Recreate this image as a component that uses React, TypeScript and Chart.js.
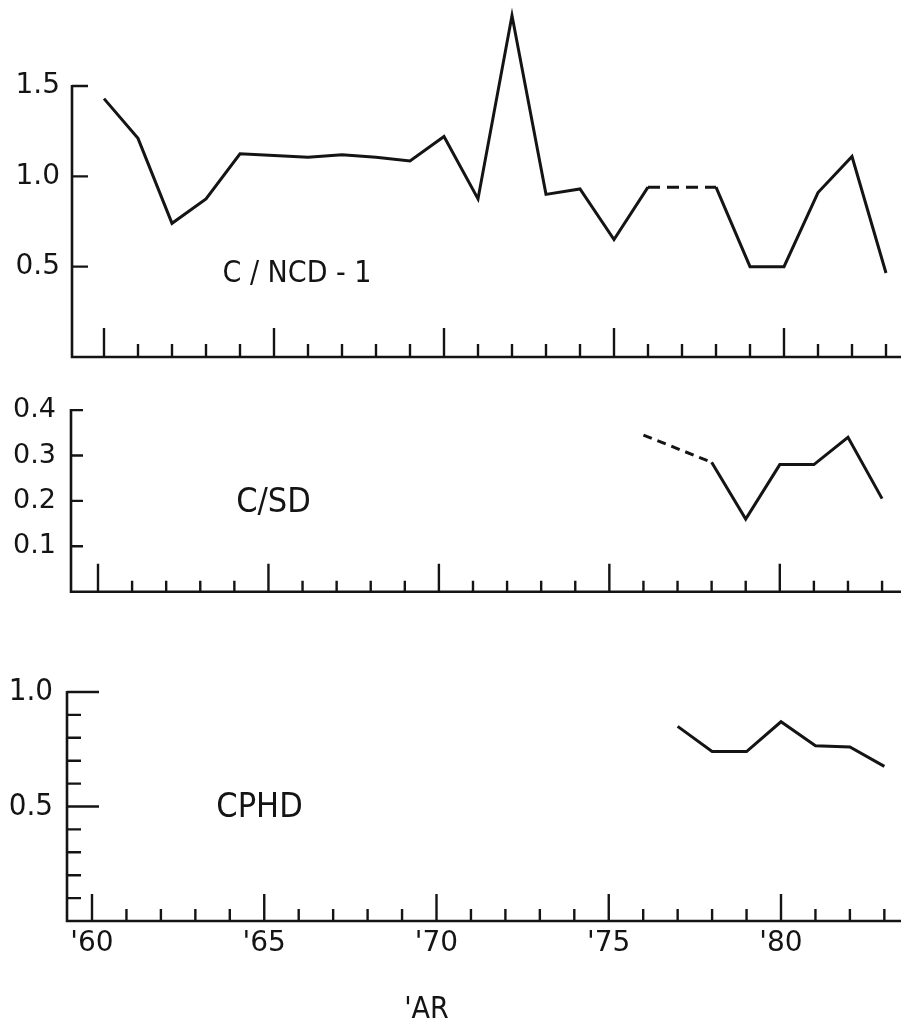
import React, { useEffect, useRef } from 'react';
import { Chart, registerables } from 'chart.js';

Chart.register(...registerables);

// ---------- data ----------
const years = [1960, 1961, 1962, 1963, 1964, 1965, 1966, 1967, 1968, 1969, 1970, 1971,
  1972, 1973, 1974, 1975, 1976, 1977, 1978, 1979, 1980, 1981, 1982, 1983];
const ncdValues: (number | null)[] = [1.43, 1.21, 0.74, 0.875, 1.125, 1.115, 1.105, 1.12, 1.105, 1.085, 1.22, 0.875,
  1.89, 0.9, 0.93, 0.65, 0.94, null, 0.94, 0.5, 0.5, 0.91, 1.11, 0.465];

const sdYears = [1976, 1977, 1978, 1979, 1980, 1981, 1982, 1983];
const sdValues: (number | null)[] = [0.345, null, 0.285, 0.16, 0.28, 0.28, 0.34, 0.205];

const cphdYears = [1977, 1978, 1979, 1980, 1981, 1982, 1983];
const cphdValues: (number | null)[] = [0.85, 0.74, 0.74, 0.87, 0.765, 0.76, 0.675];

const tickYears = years;
const majorYears = [1960, 1965, 1970, 1975, 1980];
const ncdTicks = [0.5, 1.0, 1.5];
const sdTicks = [0.1, 0.2, 0.3, 0.4];
const cphdTicks = [0.5, 1.0];
const cphdMinorTicks = [0.1, 0.2, 0.3, 0.4, 0.6, 0.7, 0.8, 0.9];
const panelLabels = ['C / NCD - 1', 'C/SD', 'CPHD'];
const xTitle = "'AR";

// ---------- helpers ----------
type Pt = { x: number; y: number | null };
function solidPoints(xs: number[], ys: (number | null)[]): Pt[] {
  return xs.map((x, i) => ({ x, y: ys[i] }));
}
function bridgePoints(xs: number[], ys: (number | null)[]): Pt[] {
  const out: Pt[] = [];
  let i = 0;
  while (i < ys.length) {
    if (ys[i] == null) {
      const a = i - 1;
      let b = i;
      while (b < ys.length && ys[b] == null) b++;
      if (a >= 0 && b < ys.length) {
        if (out.length) out.push({ x: xs[a], y: null });
        out.push({ x: xs[a], y: ys[a] }, { x: xs[b], y: ys[b] });
      }
      i = b;
    } else i++;
  }
  return out;
}

const INK = '#141414';
const W = 902;

interface Panel {
  top: number; height: number; zeroY: number; unitPx: number; axisX: number;
  x60: number; perYear: number; right: number;
  xs: number[]; ys: (number | null)[]; dash: number[];
  yTicks: number[]; yMinor: number[]; yMajorLen: number; yMinorLen: number;
  xMajorLen: number; xMinorLen: number;
  yFont: { family: string; size: number }; yPad: number;
  showX: boolean;
  label: string; labelFont: string; labelX: number; labelBase: number;
}

const PANELS: Panel[] = [
  {
    top: 0, height: 372, zeroY: 357, unitPx: 180.67, axisX: 72, x60: 104, perYear: 34.0, right: 901,
    xs: years, ys: ncdValues, dash: [12, 7],
    yTicks: ncdTicks, yMinor: [], yMajorLen: 16, yMinorLen: 0, xMajorLen: 29, xMinorLen: 13,
    yFont: { family: 'DejaVu Sans', size: 28 }, yPad: 12, showX: false,
    label: panelLabels[0], labelFont: '30px "DejaVu Sans Condensed"', labelX: 297, labelBase: 281.5,
  },
  {
    top: 385, height: 220, zeroY: 591.7, unitPx: 454, axisX: 71, x60: 98, perYear: 34.09, right: 901,
    xs: sdYears, ys: sdValues, dash: [9, 6],
    yTicks: sdTicks, yMinor: [], yMajorLen: 12, yMinorLen: 0, xMajorLen: 28, xMinorLen: 11,
    yFont: { family: 'DejaVu Sans', size: 27 }, yPad: 15, showX: false,
    label: panelLabels[1], labelFont: '34px "DejaVu Sans Condensed"', labelX: 273.5, labelBase: 512,
  },
  {
    top: 640, height: 380, zeroY: 921, unitPx: 229, axisX: 67, x60: 92, perYear: 34.45, right: 901,
    xs: cphdYears, ys: cphdValues, dash: [12, 7],
    yTicks: cphdTicks, yMinor: cphdMinorTicks, yMajorLen: 32, yMinorLen: 14, xMajorLen: 27, xMinorLen: 12,
    yFont: { family: 'DejaVu Sans Condensed', size: 31 }, yPad: 14, showX: true,
    label: panelLabels[2], labelFont: '34px "DejaVu Sans Condensed"', labelX: 259.5, labelBase: 816.7,
  },
];

function framePlugin(p: Panel, isLast: boolean) {
  return {
    id: 'frame',
    afterDatasetsDraw(chart: any) {
      const ctx: CanvasRenderingContext2D = chart.ctx;
      const xs = chart.scales.x;
      const ys = chart.scales.y;
      const left = chart.chartArea.left;
      const right = chart.chartArea.right;
      const y0 = ys.getPixelForValue(0);
      const yTop = ys.getPixelForValue(p.yTicks[p.yTicks.length - 1]);
      ctx.save();
      ctx.strokeStyle = INK;
      ctx.lineCap = 'butt';
      // axes
      ctx.lineWidth = 2.6;
      ctx.beginPath();
      ctx.moveTo(left, yTop - 1);
      ctx.lineTo(left, y0 + 1.3);
      ctx.moveTo(left - 1.3, y0);
      ctx.lineTo(right, y0);
      ctx.stroke();
      // year ticks (pointing up)
      ctx.lineWidth = 2.4;
      ctx.beginPath();
      tickYears.forEach((yr) => {
        const x = xs.getPixelForValue(yr);
        const len = majorYears.includes(yr) ? p.xMajorLen : p.xMinorLen;
        ctx.moveTo(x, y0);
        ctx.lineTo(x, y0 - len);
      });
      ctx.stroke();
      // value ticks (pointing right)
      ctx.beginPath();
      p.yTicks.forEach((v) => {
        const y = ys.getPixelForValue(v);
        ctx.moveTo(left, y);
        ctx.lineTo(left + p.yMajorLen, y);
      });
      p.yMinor.forEach((v) => {
        const y = ys.getPixelForValue(v);
        ctx.moveTo(left, y);
        ctx.lineTo(left + p.yMinorLen, y);
      });
      ctx.stroke();
      // panel label
      ctx.fillStyle = INK;
      ctx.font = p.labelFont;
      ctx.textAlign = 'center';
      ctx.textBaseline = 'alphabetic';
      ctx.fillText(p.label, p.labelX, p.labelBase - p.top);
      if (isLast) {
        ctx.font = '30px "DejaVu Sans Condensed"';
        ctx.fillText(xTitle, 426.5, 1018 - p.top);
      }
      ctx.restore();
    },
  };
}

function zeroPad(s: any) {
  s.paddingTop = 0;
  s.paddingBottom = 0;
  s.paddingLeft = 0;
  s.paddingRight = 0;
}

function buildConfig(p: Panel, isLast: boolean): any {
  const areaBottom = p.zeroY - p.top;
  const yMax = areaBottom / p.unitPx;
  const xMin = 1960 + (p.axisX - p.x60) / p.perYear;
  const xMax = 1960 + (p.right - p.x60) / p.perYear;
  const below = p.height - areaBottom;
  return {
    type: 'line',
    data: {
      datasets: [
        {
          data: solidPoints(p.xs, p.ys),
          borderColor: INK, borderWidth: 3, pointRadius: 0, tension: 0,
          spanGaps: false, fill: false, clip: false, borderJoinStyle: 'miter',
        },
        {
          data: bridgePoints(p.xs, p.ys),
          borderColor: INK, borderWidth: 3, pointRadius: 0, tension: 0,
          spanGaps: false, fill: false, clip: false, borderDash: p.dash,
        },
      ],
    },
    options: {
      responsive: false,
      animation: false,
      events: [],
      layout: { autoPadding: false, padding: { top: 0, left: 0, right: W - p.right, bottom: 0 } },
      plugins: { legend: { display: false }, tooltip: { enabled: false }, title: { display: false } },
      scales: {
        x: {
          type: 'linear', min: xMin, max: xMax, display: p.showX,
          grid: { display: false, drawTicks: false }, border: { display: false },
          afterBuildTicks: (s: any) => { s.ticks = majorYears.map((v) => ({ value: v })); },
          afterFit: (s: any) => { s.height = below; zeroPad(s); },
          ticks: {
            callback: (v: any) => "'" + String(v).slice(2),
            font: { family: 'DejaVu Sans', size: 28 }, color: INK, padding: 6,
            maxRotation: 0, minRotation: 0, autoSkip: false,
          },
        },
        y: {
          type: 'linear', min: 0, max: yMax,
          grid: { display: false, drawTicks: false }, border: { display: false },
          afterBuildTicks: (s: any) => { s.ticks = p.yTicks.map((v) => ({ value: v })); },
          afterFit: (s: any) => { s.width = p.axisX; zeroPad(s); },
          ticks: {
            callback: (v: any) => Number(v).toFixed(1),
            font: p.yFont, color: INK, padding: p.yPad, autoSkip: false,
          },
        },
      },
    },
    plugins: [framePlugin(p, isLast)],
  };
}

export default function App() {
  const r0 = useRef<HTMLCanvasElement>(null);
  const r1 = useRef<HTMLCanvasElement>(null);
  const r2 = useRef<HTMLCanvasElement>(null);
  const refs = [r0, r1, r2];
  useEffect(() => {
    const charts = PANELS.map((p, i) => new Chart(refs[i].current as HTMLCanvasElement, buildConfig(p, i === PANELS.length - 1)));
    return () => charts.forEach((c) => c.destroy());
  }, []);
  return (
    <div style={{ position: 'absolute', left: 0, top: 0, width: W, height: 1020, background: '#fff', overflow: 'hidden' }}>
      {PANELS.map((p, i) => (
        <canvas
          key={i}
          ref={refs[i]}
          width={W}
          height={p.height}
          style={{ position: 'absolute', left: 0, top: p.top, width: W, height: p.height, display: 'block' }}
        />
      ))}
    </div>
  );
}
